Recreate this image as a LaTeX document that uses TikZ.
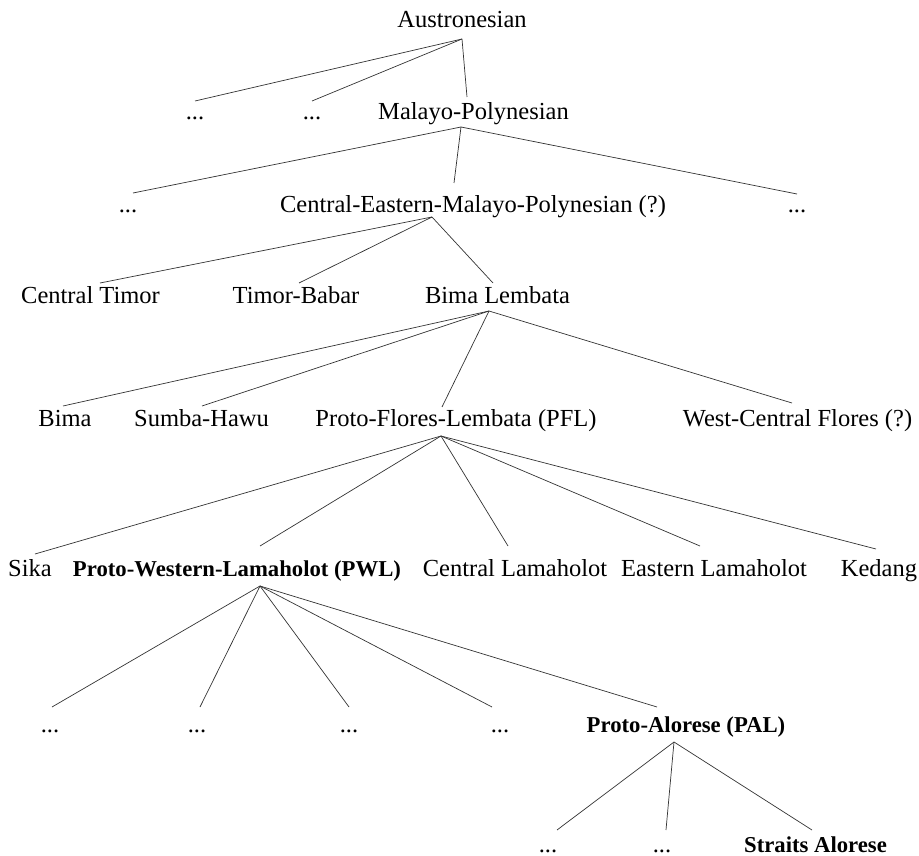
\documentclass[tikz,border=0pt]{standalone}
\usepackage{fontspec}
\setmainfont{Liberation Serif}
\newcommand\treeedge[4]{\draw[branch] ([shift={(#2)}]#1.base) -- ([shift={(#4)}]#3.base);}
\begin{document}
\begin{tikzpicture}[x=1pt,y=-1pt,
  lbl/.style={anchor=base,inner sep=0pt,font=\fontsize{24.5}{28}\selectfont},
  blbl/.style={anchor=base,inner sep=0pt,font=\fontsize{22.7}{26}\selectfont\bfseries},
  branch/.style={line width=0.7pt,draw=black!80}]
\useasboundingbox (0,0) rectangle (919,856);
% level 0
\node[lbl] (aus) at (462,28) {Austronesian};
% level 1
\node[lbl] (d1a) at (195,120) {...};
\node[lbl] (d1b) at (312,120) {...};
\node[lbl] (mp) at (473.5,120) {Malayo-Polynesian};
% level 2
\node[lbl] (d2a) at (128,213) {...};
\node[lbl] (cemp) at (473,212) {Central-Eastern-Malayo-Polynesian (?)};
\node[lbl] (d2b) at (797,213) {...};
% level 3
\node[lbl] (ct) at (90.5,303) {Central Timor};
\node[lbl] (tb) at (296,303) {Timor-Babar};
\node[lbl] (bl) at (497.5,303) {Bima Lembata};
% level 4
\node[lbl] (bima) at (65,426) {Bima};
\node[lbl] (sh) at (201.5,426) {Sumba-Hawu};
\node[lbl] (pfl) at (456,426) {Proto-Flores-Lembata (PFL)};
\node[lbl] (wcf) at (797.5,426) {West-Central Flores (?)};
% level 5
\node[lbl] (sika) at (30,576) {Sika};
\node[blbl] (pwl) at (237,576) {Proto-Western-Lamaholot (PWL)};
\node[lbl] (cl) at (515,576) {Central Lamaholot};
\node[lbl] (el) at (714,576) {Eastern Lamaholot};
\node[lbl] (ked) at (879,576) {Kedang};
% level 6
\node[lbl] (d6a) at (50,732) {...};
\node[lbl] (d6b) at (197,732) {...};
\node[lbl] (d6c) at (349,732) {...};
\node[lbl] (d6d) at (500,732) {...};
\node[blbl] (pal) at (686,732) {Proto-Alorese (PAL)};
% level 7
\node[lbl] (d7a) at (548,852) {...};
\node[lbl] (d7b) at (662,852) {...};
\node[blbl] (sa) at (815.5,852) {Straits Alorese};
% edges
\treeedge{aus}{0,11}{d1a}{0,-19}
\treeedge{aus}{0,11}{d1b}{0,-19}
\treeedge{aus}{0,11}{mp}{-6.5,-23}
\treeedge{mp}{-12.5,7}{d2a}{5,-20}
\treeedge{mp}{-12.5,7}{cemp}{-19,-29}
\treeedge{mp}{-12.5,7}{d2b}{0,-19}
\treeedge{cemp}{-41,5}{ct}{9.5,-20}
\treeedge{cemp}{-41,5}{tb}{3,-20}
\treeedge{cemp}{-41,5}{bl}{-4.5,-20}
\treeedge{bl}{-8.5,8}{bima}{-2,-20}
\treeedge{bl}{-8.5,8}{sh}{0.5,-20}
\treeedge{bl}{-8.5,8}{pfl}{-14,-19}
\treeedge{bl}{-8.5,8}{wcf}{-5.5,-23}
\treeedge{pfl}{-15,10}{sika}{5,-22}
\treeedge{pfl}{-15,10}{pwl}{23,-30}
\treeedge{pfl}{-15,10}{cl}{-7,-30}
\treeedge{pfl}{-15,10}{el}{-14,-30}
\treeedge{pfl}{-15,10}{ked}{-3,-27}
\treeedge{pwl}{23,10}{d6a}{2,-25}
\treeedge{pwl}{23,10}{d6b}{3,-25}
\treeedge{pwl}{23,10}{d6c}{0,-25}
\treeedge{pwl}{23,10}{d6d}{-8,-25}
\treeedge{pwl}{23,10}{pal}{-29,-25}
\treeedge{pal}{-12,10}{d7a}{9,-22}
\treeedge{pal}{-12,10}{d7b}{4,-22}
\treeedge{pal}{-12,10}{sa}{-3.5,-22}
\end{tikzpicture}
\end{document}
